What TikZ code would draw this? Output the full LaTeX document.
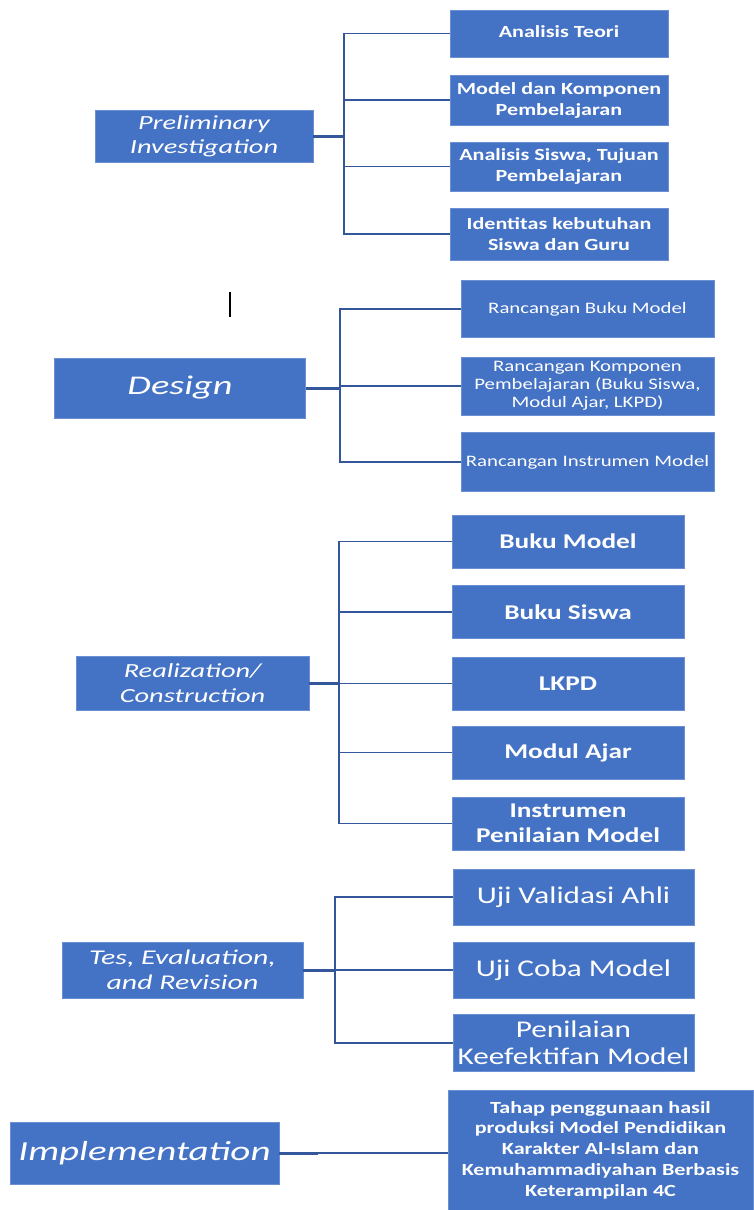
\documentclass[tikz,border=0pt]{standalone}
\usepackage{fontspec}
\newfontfamily\cf[FakeStretch=1.3]{Carlito}
\newfontfamily\pf[FakeStretch=1.42]{Carlito}
\definecolor{boxblue}{HTML}{4472C4}
\definecolor{boxedge}{HTML}{6A8FD2}
\definecolor{linkblue}{HTML}{33579A}
\tikzset{
  box/.style={fill=boxblue, draw=boxedge, line width=0.8pt, text=white, align=center, inner sep=0pt},
  stub/.style={draw=linkblue, line width=3pt},
  branch/.style={draw=linkblue, line width=1.8pt},
}
\begin{document}
\begin{tikzpicture}[x=1pt,y=-1pt]
\fill[white] (0,0) rectangle (753,1210);
\useasboundingbox (0,0) rectangle (753,1210);

% ---------- Group 1
\node[box, minimum width=218pt, minimum height=52pt, font=\pf\itshape\fontsize{20}{24}\selectfont] (p1) at (204,136) {Preliminary\\Investigation};
\node[box, minimum width=218pt, minimum height=47pt, font=\cf\bfseries\fontsize{17}{21}\selectfont] (c11) at (559,33.5) {\raisebox{3pt}{Analisis Teori}};
\node[box, minimum width=218pt, minimum height=50pt, font=\cf\bfseries\fontsize{17}{21}\selectfont] (c12) at (559,100) {Model dan Komponen\\Pembelajaran};
\node[box, minimum width=218pt, minimum height=49pt, font=\cf\bfseries\fontsize{17}{21}\selectfont] (c13) at (559,166.5) {Analisis Siswa, Tujuan\\Pembelajaran};
\node[box, minimum width=218pt, minimum height=52pt, font=\cf\bfseries\fontsize{17}{21}\selectfont] (c14) at (559,234) {Identitas kebutuhan\\Siswa dan Guru};
\coordinate (b1) at (344,136);
\draw[stub] (p1.east) -- (b1);
\draw[branch] (c11.west) -| (b1) |- (c14.west);
\draw[branch] (c12.west) -- (c12.west -| b1);
\draw[branch] (c13.west) -- (c13.west -| b1);

% ---------- Group 2
\draw[black, line width=1.8pt] (230,292) -- (230,317);
\node[box, minimum width=251pt, minimum height=60pt, font=\pf\itshape\fontsize{27}{32}\selectfont] (p2) at (180,388) {Design};
\node[box, minimum width=253pt, minimum height=57pt, font=\cf\fontsize{16}{18}\selectfont] (c21) at (587.5,309) {Rancangan Buku Model};
\node[box, minimum width=253pt, minimum height=58pt, font=\cf\fontsize{16}{18}\selectfont] (c22) at (587.5,386) {Rancangan Komponen\\Pembelajaran (Buku Siswa,\\Modul Ajar, LKPD)};
\node[box, minimum width=253pt, minimum height=59pt, font=\cf\fontsize{16}{18}\selectfont] (c23) at (587.5,462) {Rancangan Instrumen Model};
\coordinate (b2) at (340,388);
\draw[stub] (p2.east) -- (b2);
\draw[branch] (c21.west) -| (b2) |- (c23.west);
\draw[branch] (c22.west) -- (c22.west -| b2);

% ---------- Group 3
\node[box, minimum width=233pt, minimum height=54pt, font=\pf\itshape\fontsize{20}{25}\selectfont] (p3) at (192.5,683) {Realization/\\Construction};
\node[box, minimum width=232pt, minimum height=53pt, font=\cf\bfseries\fontsize{21}{25}\selectfont] (c31) at (568,541.5) {Buku Model};
\node[box, minimum width=232pt, minimum height=53pt, font=\cf\bfseries\fontsize{21}{25}\selectfont] (c32) at (568,612) {Buku Siswa};
\node[box, minimum width=232pt, minimum height=53pt, font=\cf\bfseries\fontsize{21}{25}\selectfont] (c33) at (568,683.5) {LKPD};
\node[box, minimum width=232pt, minimum height=53pt, font=\cf\bfseries\fontsize{21}{25}\selectfont] (c34) at (568,752.5) {Modul Ajar};
\node[box, minimum width=232pt, minimum height=53pt, font=\cf\bfseries\fontsize{21}{25}\selectfont] (c35) at (568,823.5) {Instrumen\\Penilaian Model};
\coordinate (b3) at (339,683);
\draw[stub] (p3.east) -- (b3);
\draw[branch] (c31.west) -| (b3) |- (c35.west);
\draw[branch] (c32.west) -- (c32.west -| b3);
\draw[branch] (c33.west) -- (c33.west -| b3);
\draw[branch] (c34.west) -- (c34.west -| b3);

% ---------- Group 4
\node[box, minimum width=241pt, minimum height=56pt, font=\pf\itshape\fontsize{21}{25}\selectfont] (p4) at (182.5,970) {Tes, Evaluation,\\and Revision};
\node[box, minimum width=241pt, minimum height=56pt, font=\cf\fontsize{24}{27}\selectfont] (c41) at (573.5,897) {Uji Validasi Ahli};
\node[box, minimum width=241pt, minimum height=56pt, font=\cf\fontsize{24}{27}\selectfont] (c42) at (573.5,970) {Uji Coba Model};
\node[box, minimum width=241pt, minimum height=57pt, font=\cf\fontsize{24}{27}\selectfont] (c43) at (573.5,1043) {Penilaian\\Keefektifan Model};
\coordinate (b4) at (335,970);
\draw[stub] (p4.east) -- (b4);
\draw[branch] (c41.west) -| (b4) |- (c43.west);
\draw[branch] (c42.west) -- (c42.west -| b4);

% ---------- Group 5
\node[box, minimum width=269pt, minimum height=62pt, font=\pf\itshape\fontsize{27.5}{32}\selectfont] (p5) at (144.5,1153) {Implementation};
\node[box, minimum width=305pt, minimum height=120pt, font=\cf\bfseries\fontsize{17}{20.7}\selectfont] (c5) at (600.5,1150) {Tahap penggunaan hasil\\produksi Model Pendidikan\\Karakter Al-Islam dan\\Kemuhammadiyahan Berbasis\\Keterampilan 4C};
\coordinate (b5) at (318,1153);
\draw[stub] (p5.east) -- (b5);
\draw[branch] (b5) -- (b5 -| c5.west);
\end{tikzpicture}
\end{document}
